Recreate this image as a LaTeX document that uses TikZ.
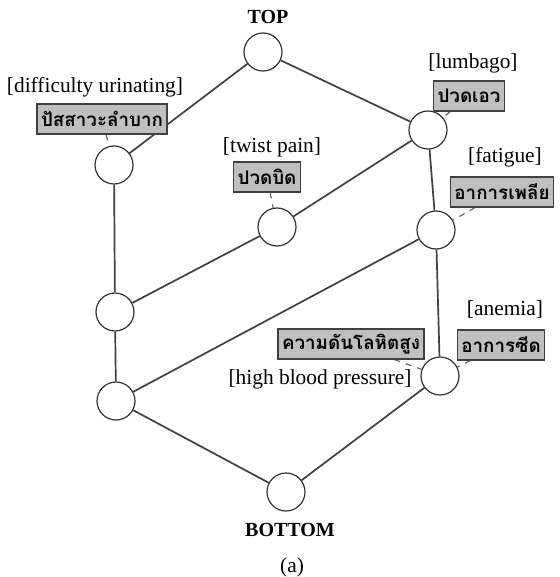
\documentclass[tikz,border=0pt]{standalone}
\usepackage{fontspec}
\setmainfont{Liberation Serif}
\newfontfamily\thaifont[Script=Thai]{Loma}
\usetikzlibrary{positioning,backgrounds}
\tikzset{
  elem/.style={circle,draw=black!80,fill=white,line width=0.6pt,minimum size=19pt,inner sep=0pt},
  tbox/.style={draw=black!75,fill=black!25,line width=0.6pt,inner sep=2pt,minimum height=15pt,
    font=\thaifont\bfseries\fontsize{9.4}{11}\selectfont},
  tag/.style={inner sep=1pt},
  kant/.style={draw=black!75,line width=0.85pt},
  kot/.style={draw=black!60,dashed,line width=0.6pt},
}
\begin{document}
\begin{tikzpicture}[x=0.5pt,y=-0.5pt,font=\fontsize{10.7}{12}\selectfont]
  \useasboundingbox (0,0) rectangle (559,577);
  % elements of the lattice
  \node[elem] (top) at (263,52) {};
  \node[elem] (urin) at (114,165) {};
  \node[elem] (lumb) at (428,130) {};
  \node[elem] (twist) at (277,227) {};
  \node[elem] (fat) at (436,230) {};
  \node[elem] (lmid) at (115,312) {};
  \node[elem] (anem) at (440,376) {};
  \node[elem] (llow) at (116,401) {};
  \node[elem] (bot) at (286,492) {};
  \node[font=\bfseries] (toplab) at (268,17) {TOP};
  \node[font=\bfseries] (botlab) at (290,530) {BOTTOM};
  \node (cap) at (292,567) {(a)};
  % attribute labels
  \node[tbox] (burin) at (102,119) {ปัสสาวะลำบาก};
  \node[tag] (turin) at (95,87) {[difficulty urinating]};
  \node[tbox] (btwist) at (267,177) {ปวดบิด};
  \node[tag] (ttwist) at (272,147) {[twist pain]};
  \node[tbox] (blumb) at (469,96) {ปวดเอว};
  \node[tag] (tlumb) at (473,63) {[lumbago]};
  \node[tbox] (bfat) at (502,192) {อาการเพลีย};
  \node[tag] (tfat) at (505,157) {[fatigue]};
  \node[tbox] (banem) at (501,345) {อาการซีด};
  \node[tag] (tanem) at (505,310) {[anemia]};
  \node[tbox] (bhbp) at (351,344) {ความดันโลหิตสูง};
  \node[tag,anchor=east] (thbp) at (414,379) {[high blood pressure]};
  \begin{scope}[on background layer]
    \foreach \a/\b in {top/urin,top/lumb,urin/lmid,lumb/twist,twist/lmid,lumb/fat,
      fat/llow,fat/anem,lmid/llow,llow/bot,anem/bot}
      \draw[kant] (\a) -- (\b);
    \foreach \a/\b in {burin/urin,btwist/twist,blumb/lumb,bfat/fat,banem/anem,bhbp/anem}
      \draw[kot] (\a) -- (\b);
  \end{scope}
\end{tikzpicture}
\end{document}
